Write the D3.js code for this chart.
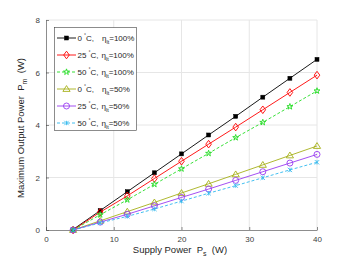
<!DOCTYPE html>
<html><head><meta charset="utf-8">
<script src="https://cdn.jsdelivr.net/npm/d3@7"></script>
<style>body{margin:0;background:#fff}svg{display:block;font-family:"Liberation Sans",Arial,sans-serif}text{white-space:pre}</style>
</head><body><svg id="c" width="350" height="263"></svg>
<script>
const supplyPower = [4, 8, 12, 16, 20, 24, 28, 32, 36, 40];
const s0c100 = [0.02, 0.74, 1.46, 2.18, 2.9, 3.62, 4.33, 5.06, 5.78, 6.5];
const s25c100 = [0, 0.68, 1.3, 1.96, 2.62, 3.27, 3.92, 4.58, 5.24, 5.9];
const s50c100 = [0, 0.58, 1.15, 1.74, 2.33, 2.92, 3.52, 4.1, 4.7, 5.3];
const s0c50 = [0, 0.35, 0.7, 1.05, 1.41, 1.76, 2.12, 2.48, 2.84, 3.2];
const s25c50 = [0, 0.3, 0.6, 0.92, 1.24, 1.56, 1.89, 2.22, 2.55, 2.88];
const s50c50 = [0, 0.27, 0.52, 0.8, 1.1, 1.4, 1.69, 1.99, 2.29, 2.58];
const temps = ["0", "25", "50", "0", "25", "50"];
const effs = ["100%", "100%", "100%", "50%", "50%", "50%"];
const xTicks = [0, 10, 20, 30, 40];
const yTicks = [0, 2, 4, 6, 8];

const series = [
  {v: s0c100, color: "#000000", dash: null, marker: "square"},
  {v: s25c100, color: "#ff0000", dash: null, marker: "diamond"},
  {v: s50c100, color: "#22dd22", dash: "3,2", marker: "star"},
  {v: s0c50, color: "#a6b01a", dash: null, marker: "triangle"},
  {v: s25c50, color: "#9a3cf0", dash: null, marker: "circle"},
  {v: s50c50, color: "#2eb8ee", dash: "3,2", marker: "x"}
];

const svg = d3.select("#c");
const L = 46, R = 317, T = 20, B = 230;
const x = d3.scaleLinear().domain([0, 40]).range([L, R]);
const y = d3.scaleLinear().domain([0, 8]).range([B, T]);

// grid
svg.append("g").selectAll("line").data(xTicks.slice(1)).join("line")
  .attr("x1", d => x(d)).attr("x2", d => x(d)).attr("y1", T).attr("y2", B)
  .attr("stroke", "#e6e6e6").attr("stroke-width", 1);
svg.append("g").selectAll("line").data(yTicks.slice(1)).join("line")
  .attr("x1", L).attr("x2", R).attr("y1", d => y(d)).attr("y2", d => y(d))
  .attr("stroke", "#e6e6e6").attr("stroke-width", 1);

// axes
const xa = svg.append("g").attr("transform", `translate(0,${B})`)
  .call(d3.axisBottom(x).tickValues(xTicks).tickSize(-3).tickPadding(6).tickSizeOuter(0));
const ya = svg.append("g").attr("transform", `translate(${L},0)`)
  .call(d3.axisLeft(y).tickValues(yTicks).tickSize(-3).tickPadding(6).tickSizeOuter(0));
[xa, ya].forEach(a => {
  a.select(".domain").attr("stroke", "#404040").attr("stroke-width", 0.6);
  a.selectAll(".tick line").attr("stroke", "#404040").attr("stroke-width", 0.6);
  a.selectAll("text").attr("fill", "#404040").attr("font-size", 8).attr("font-family", "Liberation Sans,Arial,sans-serif");
});

function drawMarker(g, type, cx, cy, color) {
  if (type === "square") {
    g.append("rect").attr("x", cx - 2).attr("y", cy - 2).attr("width", 4).attr("height", 4)
      .attr("fill", color).attr("stroke", color).attr("stroke-width", 0.5);
  } else if (type === "diamond") {
    g.append("path").attr("d", `M${cx},${cy-3.8}L${cx+2.8},${cy}L${cx},${cy+3.8}L${cx-2.8},${cy}Z`)
      .attr("fill", "none").attr("stroke", color).attr("stroke-width", 0.9);
  } else if (type === "star") {
    const p = d3.symbol().type(d3.symbolStar).size(11)();
    g.append("path").attr("d", p).attr("transform", `translate(${cx},${cy})`)
      .attr("fill", "none").attr("stroke", color).attr("stroke-width", 0.9);
  } else if (type === "triangle") {
    g.append("path").attr("d", `M${cx},${cy-3.4}L${cx+3.6},${cy+2.4}L${cx-3.6},${cy+2.4}Z`)
      .attr("fill", "none").attr("stroke", color).attr("stroke-width", 0.9);
  } else if (type === "circle") {
    g.append("circle").attr("cx", cx).attr("cy", cy).attr("r", 3)
      .attr("fill", "none").attr("stroke", color).attr("stroke-width", 0.9);
  } else if (type === "x") {
    g.append("path").attr("d", `M${cx-2.2},${cy-2.2}L${cx+2.2},${cy+2.2}M${cx-2.2},${cy+2.2}L${cx+2.2},${cy-2.2}M${cx},${cy-2.2}L${cx},${cy+2.2}`)
      .attr("fill", "none").attr("stroke", color).attr("stroke-width", 0.8);
  }
}

const line = d3.line().x((d, i) => x(supplyPower[i])).y(d => y(d));
series.forEach(s => {
  const g = svg.append("g");
  g.append("path").attr("d", line(s.v)).attr("fill", "none").attr("stroke", s.color)
    .attr("stroke-width", 0.9).attr("stroke-dasharray", s.dash);
  s.v.forEach((d, i) => drawMarker(g, s.marker, x(supplyPower[i]), y(d), s.color));
});

// legend
const lg = svg.append("g");
lg.append("rect").attr("x", 54.5).attr("y", 27.5).attr("width", 82).attr("height", 103)
  .attr("fill", "#fff").attr("stroke", "#404040").attr("stroke-width", 0.6);
series.forEach((s, i) => {
  const yy = 38 + i * 17;
  lg.append("line").attr("x1", 57).attr("x2", 76).attr("y1", yy).attr("y2", yy)
    .attr("stroke", s.color).attr("stroke-width", 0.9).attr("stroke-dasharray", s.dash);
  drawMarker(lg, s.marker, 66.5, yy, s.color);
  const t = lg.append("text").attr("x", 77.5).attr("y", yy + 3).attr("font-size", 8).attr("fill", "#262626");
  t.append("tspan").text(temps[i] + " ");
  t.append("tspan").attr("font-size", 5.5).attr("dy", -3).text("˚");
  t.append("tspan").attr("dy", 3).text("C,");
  t.append("tspan").attr("dx", temps[i] === "0" ? 8 : 3).text("η");
  t.append("tspan").attr("font-size", 5.5).attr("dy", 2.5).text("lt");
  t.append("tspan").attr("dy", -2.5).text("=" + effs[i]);
});

// axis labels
const xl = svg.append("text").attr("x", 180).attr("y", 253).attr("text-anchor", "middle")
  .attr("font-size", 9.5).attr("fill", "#262626");
xl.append("tspan").text("Supply Power  P");
xl.append("tspan").attr("font-size", 7).attr("dy", 3).text("s");
xl.append("tspan").attr("dy", -3).text("  (W)");

const yl = svg.append("text").attr("transform", "translate(24,128) rotate(-90)").attr("text-anchor", "middle")
  .attr("font-size", 9.5).attr("fill", "#262626");
yl.append("tspan").text("Maximum Output Power  P");
yl.append("tspan").attr("font-size", 7).attr("dy", 3).text("m");
yl.append("tspan").attr("dy", -3).text("  (W)");
</script></body></html>
